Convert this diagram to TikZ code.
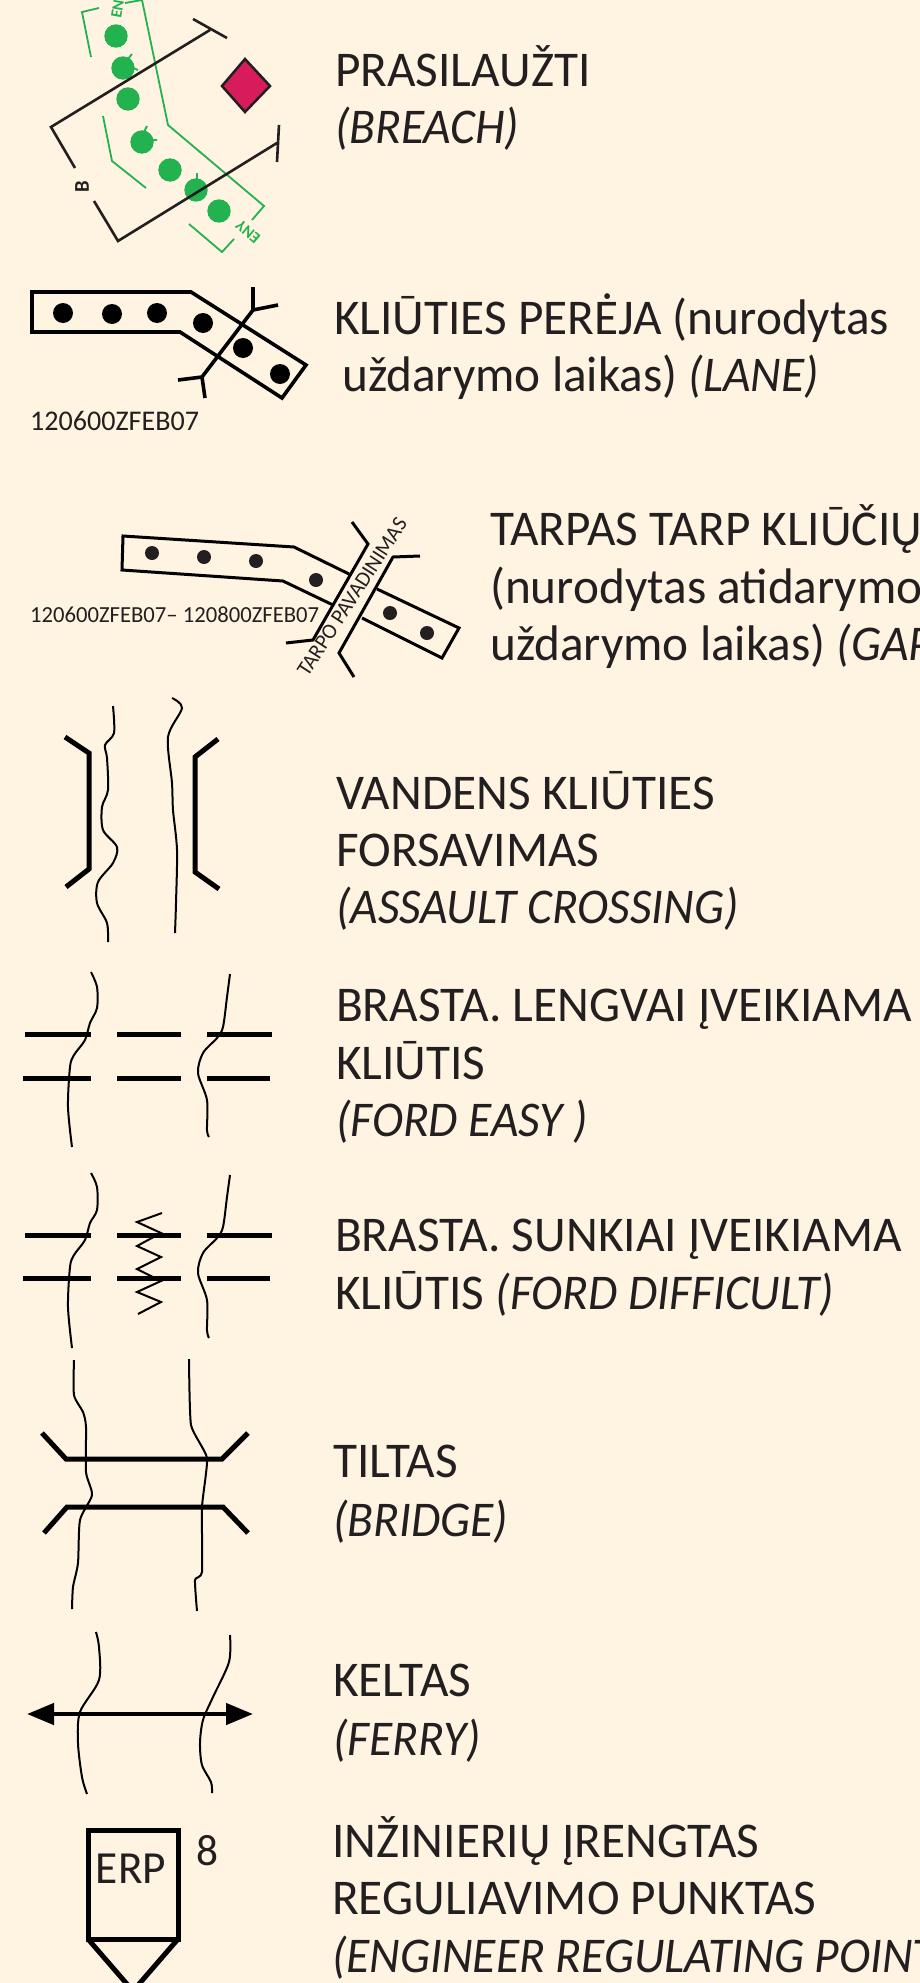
\documentclass[tikz,border=0pt]{standalone}
\usepackage{fontspec}
\setmainfont[FakeStretch=0.985,ItalicFeatures={FakeStretch=0.95}]{Carlito}
\usepackage{tikz}
\usetikzlibrary{arrows.meta}
\definecolor{paper}{HTML}{FFF3E1}
\definecolor{ink}{HTML}{231F20}
\definecolor{mine}{HTML}{22B24F}
\definecolor{target}{HTML}{D71B5B}
\newcommand{\labelfont}{\fontsize{50}{50}\selectfont}

\begin{document}
\begin{tikzpicture}[x=1pt, y=-1pt, line join=miter,
  legend/.style={anchor=base west, inner sep=0pt, text=ink, font=\labelfont},
  tag/.style={anchor=base west, inner sep=0pt, text=ink, font=\fontsize{28.5}{28.5}\selectfont},
  minetag/.style={inner sep=0pt, text=mine, font=\bfseries\fontsize{16}{16}\selectfont},
  bank/.style={line width=2pt, black},
  bar/.style={line width=5pt, black},
  frame/.style={line width=3.6pt, black},
  gapframe/.style={line width=3pt, black},
  thick bar/.style={line width=5pt, black},
  breachline/.style={line width=2.6pt, ink},
  mineline/.style={line width=1.8pt, mine}]
\useasboundingbox (0,0) rectangle (920,1983);
\clip (0,0) rectangle (920,1983);
\fill[paper] (0,0) rectangle (920,1983);

% breach
\begin{scope}
\draw[mineline] (125,3)--(142,0)--(168,125)--(264,206)--(252,220);
\draw[mineline] (99,8)--(82,12)--(91,57);
\draw[mineline] (103,116)--(112,161)--(146,188);
\draw[mineline] (189,224)--(222,252)--(234,239);
\fill[mine] (116,36) circle (11.7) (123,68) circle (11.7) (128,99) circle (11.7)
  (142,142) circle (11.7) (170,170) circle (11.7) (196,190) circle (11.7) (219,211) circle (11.7);
\draw[mineline] (128,59)--(132,54) (133,68)--(138,70) (144,132)--(147,126) (152,140)--(157,140) (197,180)--(197,173);
\node[minetag, rotate=80, anchor=west] (ewtag) at (116,18) {ENY};
\node[minetag, rotate=140] (enytag) at (248,232) {ENY};
\draw[breachline] (193,19)--(227,38) (210,30)--(51,127)--(75,168);
\draw[breachline] (94,201)--(118,241)--(277,143) (279,125)--(277,162);
\node[inner sep=0pt, text=ink, font=\bfseries\fontsize{21}{21}\selectfont, rotate=90] (breachtag) at (82,187) {B};
\draw[line width=2.5pt, ink, fill=target] (245,59)--(270,86)--(245,112)--(222,86)--cycle;
\end{scope}
\node[legend] (breachA) at (335,86.5) {PRASILAUŽTI};
\node[legend] (breachB) at (335,143.5) {\textit{(BREACH)}};

% lane
\draw[frame] (32,292)--(191,292)--(306,365)--(282,398)--(180,332)--(32,332)--cycle;
\fill[black] (63,313) circle (10) (112,314) circle (10) (157,313) circle (10)
  (203,323) circle (10) (243,348) circle (10) (280,374) circle (10);
\draw[frame] (253,287)--(253,310)--(202,377)--(178,380) (278,305)--(253,310) (202,377)--(205,398);
\node[tag] (lanetime) at (30,430) {120600ZFEB07};
\node[legend] (laneA) at (334,334) {KLIŪTIES PERĖJA (nurodytas};
\node[legend] (laneB) at (342,391) {uždarymo laikas) \textit{(LANE)}};

% gap
\draw[gapframe] (349,574)--(294,547)--(123,536)--(122,570)--(283,581)--(333,605);
\draw[gapframe] (377,589)--(459,628)--(442,658)--(362,618);
\draw[gapframe] (352,522)--(368,544)--(313,640)--(286,643);
\draw[gapframe] (420,556)--(393,557)--(339,653)--(354,677);
\fill[ink] (152,553) circle (7) (204,557) circle (7) (256,561) circle (7)
  (316,580) circle (7) (390,613) circle (7) (427,633) circle (7);
\node[inner sep=0pt, text=ink, font=\fontsize{21.5}{21.5}\selectfont, rotate=57] (gapname) at (352,597) {TARPO PAVADINIMAS};
\node[tag, font=\fontsize{23}{23}\selectfont] (gaptime) at (30,622) {120600ZFEB07– 120800ZFEB07};
\node[legend] (gapA) at (490,545) {TARPAS TARP KLIŪČIŲ};
\node[legend] (gapB) at (490,603) {(nurodytas atidarymo};
\node[legend] (gapC) at (490,660) {uždarymo laikas) \textit{(GAP)}};

% assault crossing
\draw[thick bar] (65,737)--(89,753)--(89,869)--(66,887);
\draw[thick bar] (218,739)--(195,757)--(195,872)--(219,889);
\draw[bank] plot[smooth, tension=.5] coordinates {(113,706)(114,733)(105,745)(107,758)(108,790)(102,807)(103,830)(117,847)(113,863)(98,882)(97,903)(107,923)(108,942)};
\draw[bank] plot[smooth, tension=.5] coordinates {(172,698)(182,708)(168,737)(172,783)(173,810)(177,850)(176,903)(175,933)};
\node[legend] (crossA) at (336,809) {VANDENS KLIŪTIES};
\node[legend] (crossB) at (336,866) {FORSAVIMAS};
\node[legend] (crossC) at (336,923) {\textit{(ASSAULT CROSSING)}};

% ford easy
\draw[bar] (25,1034)--(91,1034) (23,1078)--(91,1078) (117,1034)--(181,1034) (117,1078)--(181,1078)
  (207,1034)--(272,1034) (207,1078)--(270,1078);
\draw[bank] plot[smooth, tension=.5] coordinates {(91,972)(97,987)(97,1008)(90,1023)(85,1040)(74,1055)(70,1067)(68,1107)(72,1147)};
\draw[bank] plot[smooth, tension=.5] coordinates {(230,974)(227,997)(223,1027)(217,1038)(203,1053)(198,1073)(207,1100)(207,1130)(209,1137)};
\node[legend] (easyA) at (336,1021) {BRASTA. LENGVAI ĮVEIKIAMA};
\node[legend] (easyB) at (336,1079) {KLIŪTIS};
\node[legend] (easyC) at (336,1136) {\textit{(FORD EASY )}};

% ford difficult
\draw[bar] (25,1235)--(91,1235) (23,1278)--(91,1278) (117,1235)--(181,1235) (117,1278)--(181,1278)
  (207,1235)--(272,1235) (207,1278)--(270,1278);
\draw[bank] plot[smooth, tension=.5] coordinates {(91,1173)(97,1187)(97,1210)(90,1223)(85,1240)(74,1255)(70,1267)(68,1307)(72,1348)};
\draw[bank] plot[smooth, tension=.5] coordinates {(230,1175)(227,1197)(223,1227)(217,1238)(203,1253)(198,1273)(207,1300)(207,1330)(209,1338)};
\draw[line width=2pt, black] (162,1213)--(137,1222)--(161,1233)--(137,1246)--(161,1257)--(137,1269)--(161,1281)--(137,1292)--(161,1302)--(138,1314);
\node[legend] (hardA) at (335,1251) {BRASTA. SUNKIAI ĮVEIKIAMA};
\node[legend] (hardB) at (335,1309) {KLIŪTIS \textit{(FORD DIFFICULT)}};

% bridge
\draw[thick bar] (42,1433)--(66,1459)--(222,1459)--(248,1433);
\draw[thick bar] (44,1533)--(67,1507)--(223,1507)--(248,1533);
\draw[bank] plot[smooth, tension=.4] coordinates {(74,1360)(74,1395)(83,1412)(86,1427)(86,1472)(92,1495)(80,1520)(78,1563)(73,1587)(72,1609)};
\draw[bank] plot[smooth, tension=.3] coordinates {(189,1359)(191,1425)(207,1458)(202,1507)(202,1572)(195,1580)(197,1611)};
\node[legend] (bridgeA) at (333,1477.5) {TILTAS};
\node[legend] (bridgeB) at (333,1536) {\textit{(BRIDGE)}};

% ferry
\draw[line width=4.5pt, black, {Triangle[length=27pt,width=21pt]}-{Triangle[length=27pt,width=21pt]}] (27,1714)--(253,1714);
\draw[bank] plot[smooth, tension=.5] coordinates {(96,1632)(99,1647)(99,1680)(80,1712)(78,1743)(82,1777)(87,1794)};
\draw[bank] plot[smooth, tension=.5] coordinates {(230,1635)(229,1662)(213,1697)(203,1720)(200,1743)(202,1765)(211,1782)(212,1793)};
\node[legend] (ferryA) at (333,1696.5) {KELTAS};
\node[legend] (ferryB) at (333,1755) {\textit{(FERRY)}};

% engineer regulating point
\draw[thick bar] (88,1830) rectangle (178,1939);
\draw[thick bar] (88,1939)--(133,1991)--(178,1939);
\node[inner sep=0pt, anchor=base, text=ink, font=\fontsize{46}{46}\selectfont] (erp) at (131,1883) {ERP};
\node[inner sep=0pt, anchor=base, text=ink, font=\fontsize{44}{44}\selectfont] (erpnum) at (207,1865) {8};
\node[legend] (erpA) at (332,1857) {INŽINIERIŲ ĮRENGTAS};
\node[legend] (erpB) at (332,1914) {REGULIAVIMO PUNKTAS};
\node[legend] (erpC) at (332,1972) {\textit{(ENGINEER REGULATING POINT)}};
\end{tikzpicture}
\end{document}
